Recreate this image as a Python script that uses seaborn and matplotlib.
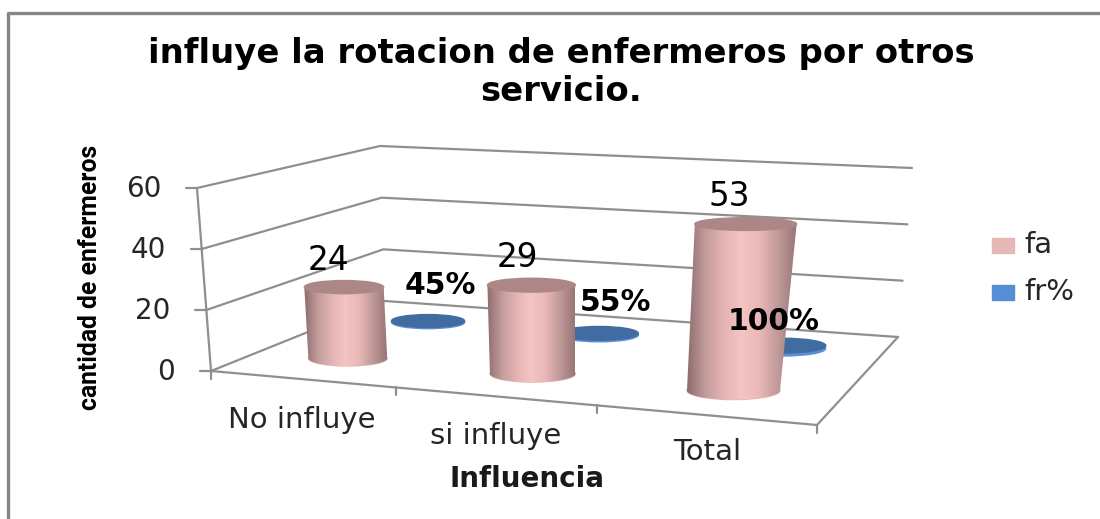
import numpy as np
import matplotlib
matplotlib.use('Agg')
import matplotlib.pyplot as plt
from matplotlib.colors import LinearSegmentedColormap
from matplotlib.patches import Ellipse, Polygon, Rectangle
import seaborn as sns

categorias = ['No influye', 'si influye', 'Total']
fa = [24, 29, 53]
fr = [0.45, 0.55, 1.00]
fa_labels = ['24', '29', '53']
fr_labels = ['45%', '55%', '100%']
y_ticks = [0, 20, 40, 60]
series = ['fa', 'fr%']

titulo = 'influye la rotacion de enfermeros por otros\nservicio.'

sns.set_theme(style='white')
plt.rcParams['font.family'] = ['DejaVu Sans']

fig = plt.figure(figsize=(11, 5.19), dpi=100)
ax = fig.add_axes([0, 0, 1, 1])
ax.set_xlim(0, 1100)
ax.set_ylim(519, 0)
ax.axis('off')


# homografia: cuadrado unidad (t, d) -> pixeles de la imagen
def homografia(esquinas):
    src = [(0, 0), (1, 0), (1, 1), (0, 1)]
    A, b = [], []
    for (u, v), (x, y) in zip(src, esquinas):
        A.append([u, v, 1, 0, 0, 0, -u * x, -v * x])
        A.append([0, 0, 0, u, v, 1, -u * y, -v * y])
        b += [x, y]
    h = np.linalg.solve(np.array(A, float), np.array(b, float))
    return np.append(h, 1).reshape(3, 3)


# orden: frente-izq, frente-der, fondo-der, fondo-izq
H_piso = homografia([(211, 371), (817, 425), (898, 337), (385, 301)])
H_techo = homografia([(197, 188), (848, 226), (912, 168), (380, 146)])


def proyectar(t, d, v):
    p = []
    for H in (H_piso, H_techo):
        q = H @ np.array([t, d, 1.0])
        p.append(q[:2] / q[2])
    return p[0] + (p[1] - p[0]) * v / 60.0


def linea(puntos, color='#8f8f8f', lw=1.6):
    puntos = np.array(puntos)
    sns.lineplot(x=puntos[:, 0], y=puntos[:, 1], sort=False, estimator=None,
                 color=color, lw=lw, ax=ax, zorder=2)


# paredes y piso
for v in y_ticks:
    linea([proyectar(0, 0, v), proyectar(0, 1, v), proyectar(1, 1, v)])
linea([proyectar(0, 0, 0), proyectar(1, 0, 0), proyectar(1, 1, 0)])
linea([proyectar(0, 0, 0), proyectar(0, 0, 60)])

for v in y_ticks:
    p = proyectar(0, 0, v)
    linea([p, p + np.array([-11, 0])])
    ax.text(p[0] - 36, p[1] + 1, str(v), ha='right', va='center',
            fontsize=20, color='#262626')

for i in range(4):
    p = proyectar(i / 3, 0, 0)
    linea([p, p + np.array([0, 8])])

# cilindros
R_T = 0.074
R_D = 0.098
cmap_rosa = LinearSegmentedColormap.from_list(
    'rosa', ['#8f6d6d', '#c39c9c', '#e4b4b4', '#f3c5c4', '#e9b7b7', '#c09999', '#9a7676'])


def cilindro(t, d, valor, cmap, color_tapa, color_base, zorder):
    base = proyectar(t, d, 0)
    tapa = proyectar(t, d, valor)
    def radios(v):
        rx = abs(proyectar(t + R_T, d, v)[0] - proyectar(t - R_T, d, v)[0]) / 2
        ry = abs(proyectar(t, d + R_D, v)[1] - proyectar(t, d - R_D, v)[1]) / 2
        return rx, ry
    rx0, ry0 = radios(0)
    rx1, ry1 = radios(valor)
    ax.add_patch(Ellipse(base, 2 * rx0, 2 * ry0, color=color_base, zorder=zorder))
    if cmap is not None:
        ang = np.linspace(np.pi, 0, 40)
        borde = [(base[0] + rx0 * np.cos(a), base[1] + ry0 * np.sin(a)) for a in ang]
        cuerpo = [(tapa[0] + rx1, tapa[1]), (tapa[0] - rx1, tapa[1])]
        poly = Polygon(borde + cuerpo, closed=True, transform=ax.transData, fc='none', ec='none')
        ax.add_patch(poly)
        izq = min(tapa[0] - rx1, base[0] - rx0)
        der = max(tapa[0] + rx1, base[0] + rx0)
        im = ax.imshow(np.linspace(0, 1, 128).reshape(1, -1), cmap=cmap, aspect='auto',
                       extent=(izq, der, base[1] + ry0, tapa[1]), zorder=zorder)
        im.set_clip_path(poly)
    ax.add_patch(Ellipse(tapa, 2 * rx1, 2 * ry1, color=color_tapa, zorder=zorder + 0.1))
    return tapa


pos_t = [(i + 0.5) / 3 for i in range(3)]

off_fa = [(-16, -27), (-14, -28), (-17, -28)]
off_fr = [(12, -35), (17, -31), (-10, -24)]

# la serie fr% va al fondo, fa adelante
for i in range(3):
    tapa = cilindro(pos_t[i], 0.75, fr[i], None, '#416ca1', '#5a8fd6', 3 + i)
    ax.text(tapa[0] + off_fr[i][0], tapa[1] + off_fr[i][1], fr_labels[i], ha='center',
            va='center', fontsize=21.5, color='black', fontweight='bold', zorder=20)
for i in range(3):
    tapa = cilindro(pos_t[i], 0.25, fa[i], cmap_rosa, '#ad8786', '#e6b8b7', 7 + i)
    ax.text(tapa[0] + off_fa[i][0], tapa[1] + off_fa[i][1], fa_labels[i], ha='center',
            va='center', fontsize=23.5, color='black', zorder=20)

ax.set_xlim(0, 1100)
ax.set_ylim(519, 0)

# textos de ejes
for cat, (x, y) in zip(categorias, [(302, 420), (496, 436), (707, 452)]):
    ax.text(x, y, cat, ha='center', va='center', fontsize=21, color='#262626')
ax.text(527, 479, 'Influencia', ha='center', va='center', fontsize=20,
        fontweight='bold', color='#1a1a1a')
ax.text(90, 277, 'cantidad de enfermeros', rotation=90, ha='center', va='center',
        fontsize=17.8, fontweight='bold', family='Roboto', color='black')
ax.text(561, 72.5, titulo, ha='center', va='center', fontsize=24.4, fontweight='bold',
        color='black', linespacing=1.2)

# leyenda
for nombre, color, y in zip(series, ['#e6b8b7', '#558ed5'], [245, 292]):
    ax.add_patch(Rectangle((992, y - 7.5), 22, 15, color=color, zorder=5))
    ax.text(1024, y, nombre, ha='left', va='center', fontsize=21, color='#262626')

# marco
linea([(8, 519), (8, 13), (1100, 13)], color='#868686', lw=2.4)

fig.savefig('out.png', dpi=100)
